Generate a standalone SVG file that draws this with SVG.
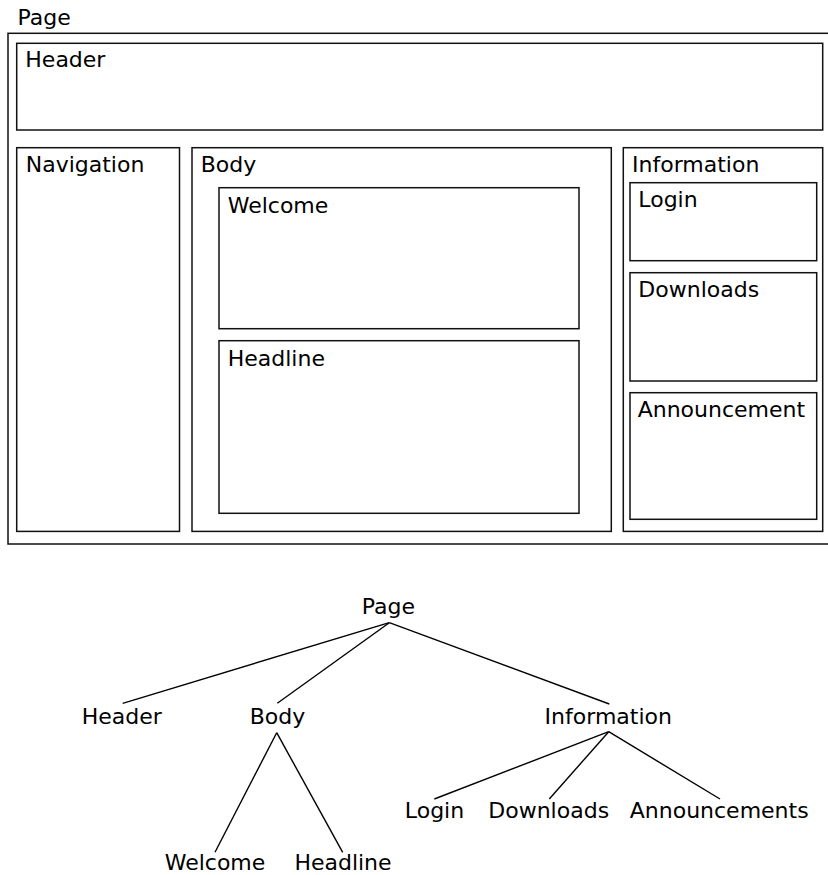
<svg xmlns="http://www.w3.org/2000/svg" width="828" height="875" viewBox="0 0 828 875">
<style>
.box{fill:none;stroke:#111;stroke-width:1.5}
.t{font-family:"DejaVu Sans","Liberation Sans",sans-serif;font-size:22px;fill:#000}
.m{text-anchor:middle}
.edge{stroke:#000;stroke-width:1.4;fill:none}
</style>
<rect width="828" height="875" fill="#fff"/>
<g id="layout">
<g id="page"><rect class="box" x="8" y="33.3" width="830" height="510.7"/><text class="t" x="17.5" y="25">Page</text></g>
<g id="header"><rect class="box" x="16.7" y="43.3" width="806" height="86.7"/><text class="t" x="25.3" y="67">Header</text></g>
<g id="navigation"><rect class="box" x="16.7" y="147.7" width="162.8" height="383.7"/><text class="t" x="25.7" y="172">Navigation</text></g>
<g id="body"><rect class="box" x="192" y="147.7" width="419.3" height="383.7"/><text class="t" x="200.7" y="172">Body</text></g>
<g id="welcome"><rect class="box" x="219" y="187.7" width="360" height="141"/><text class="t" x="227.7" y="212.5">Welcome</text></g>
<g id="headline"><rect class="box" x="219" y="340.7" width="360" height="172.6"/><text class="t" x="227.7" y="365.5">Headline</text></g>
<g id="information"><rect class="box" x="623.3" y="147.7" width="199.4" height="383.7"/><text class="t" x="632" y="172">Information</text></g>
<g id="login"><rect class="box" x="630" y="182.7" width="186.7" height="78"/><text class="t" x="638.3" y="206.7">Login</text></g>
<g id="downloads"><rect class="box" x="630" y="272.7" width="186.7" height="108.3"/><text class="t" x="638.3" y="296.7">Downloads</text></g>
<g id="announcement"><rect class="box" x="630" y="392.7" width="186.7" height="126.6"/><text class="t" x="637.7" y="416.5">Announcement</text></g>
</g>
<g id="connectors">
<line class="edge" x1="389.3" y1="622.7" x2="122.7" y2="703.3"/>
<line class="edge" x1="389.3" y1="622.7" x2="277.3" y2="703.3"/>
<line class="edge" x1="389.3" y1="622.7" x2="609.3" y2="704"/>
<line class="edge" x1="276.7" y1="732.7" x2="215" y2="852.3"/>
<line class="edge" x1="276.7" y1="732.7" x2="342.7" y2="852.3"/>
<line class="edge" x1="608.7" y1="731.7" x2="434.3" y2="799"/>
<line class="edge" x1="608.7" y1="731.7" x2="549.3" y2="799"/>
<line class="edge" x1="608.7" y1="731.7" x2="720" y2="799"/>
</g>
<g id="tree-page"><text class="t m" x="388.3" y="614">Page</text></g>
<g id="tree-header"><text class="t m" x="121.7" y="724">Header</text></g>
<g id="tree-body"><text class="t m" x="277.5" y="724">Body</text></g>
<g id="tree-information"><text class="t m" x="608.3" y="723.5">Information</text></g>
<g id="tree-login"><text class="t m" x="434.5" y="818.3">Login</text></g>
<g id="tree-downloads"><text class="t m" x="548.7" y="818.3">Downloads</text></g>
<g id="tree-announcements"><text class="t m" x="719.2" y="818.3">Announcements</text></g>
<g id="tree-welcome"><text class="t m" x="215" y="870">Welcome</text></g>
<g id="tree-headline"><text class="t m" x="343" y="870">Headline</text></g>
</svg>
